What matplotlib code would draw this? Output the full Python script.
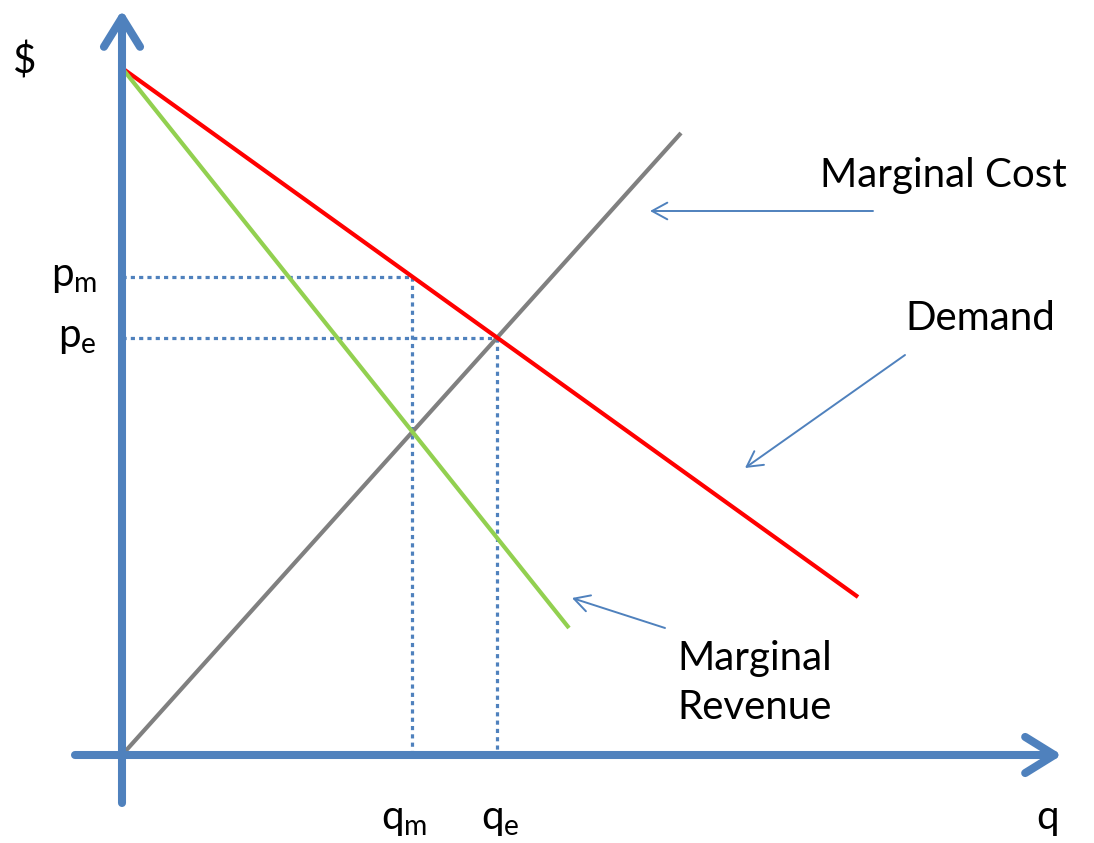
import matplotlib
matplotlib.use("Agg")
import matplotlib.pyplot as plt
import numpy as np
from matplotlib.patches import FancyArrowPatch

# Curves, quantity / price in drawing units (origin at axes crossing)
demand_q = [0, 736]
demand_p = [687, 158]
mr_q = [0, 447]
mr_p = [687, 127]
mc_q = [0, 559]
mc_p = [0, 622]

AXIS_BLUE = "#4F81BD"
FONT = "Lato"


def _line(q, p):
    slope = (p[1] - p[0]) / (q[1] - q[0])
    return slope, p[0] - slope * q[0]


def _cross(a, b):
    m1, c1 = _line(*a)
    m2, c2 = _line(*b)
    x = (c2 - c1) / (m1 - m2)
    return x, m1 * x + c1


fig = plt.figure(figsize=(10.94, 8.43), dpi=100)
ax = fig.add_axes([0, 0, 1, 1])
ax.set_xlim(-122, 972)
ax.set_ylim(-88, 755)
ax.axis("off")

# equilibrium points
q_e, p_e = _cross((demand_q, demand_p), (mc_q, mc_p))
q_m, _ = _cross((mr_q, mr_p), (mc_q, mc_p))
m_d, c_d = _line(demand_q, demand_p)
p_m = m_d * q_m + c_d

dot = dict(color=AXIS_BLUE, lw=2.3, linestyle=(0, (1.3, 1.3)), dash_capstyle="butt", zorder=2)
ax.plot([0, q_m], [p_m, p_m], **dot)
ax.plot([q_m, q_m], [p_m, 0], **dot)
ax.plot([0, q_e], [p_e, p_e], **dot)
ax.plot([q_e, q_e], [p_e, 0], **dot)

ax.plot(mc_q, mc_p, color="#808080", lw=3.0, solid_capstyle="butt", zorder=3)
ax.plot(demand_q, demand_p, color="#FF0000", lw=3.0, solid_capstyle="butt", zorder=3)
ax.plot(mr_q, mr_p, color="#92D050", lw=3.0, solid_capstyle="butt", zorder=3)

# axes arrows
for start, end in [((0, -48), (0, 745)), ((-47, 0), (940, 0))]:
    ax.add_patch(FancyArrowPatch(start, end, arrowstyle="->,head_length=21,head_width=13",
                                 mutation_scale=1, color=AXIS_BLUE, lw=5.8,
                                 capstyle="round", joinstyle="round", shrinkA=0, shrinkB=0,
                                 zorder=4))

# label arrows
for start, end in [((751, 544), (528, 544)), ((783, 400), (623, 287)), ((543, 127), (450, 157))]:
    ax.add_patch(FancyArrowPatch(start, end, arrowstyle="->,head_length=11,head_width=6",
                                 mutation_scale=1, color=AXIS_BLUE, lw=1.4,
                                 shrinkA=0, shrinkB=0, zorder=4))

fs = 29
ax.text(-97, 693, "$", fontsize=fs, family=FONT, ha="center", va="center")
ax.text(-25, p_m, r"p$_\mathregular{m}$", fontsize=fs, family=FONT, ha="right", va="center")
ax.text(-25, p_e, r"p$_\mathregular{e}$", fontsize=fs, family=FONT, ha="right", va="center")
ax.text(q_m - 8, -64, r"q$_\mathregular{m}$", fontsize=fs, family=FONT, ha="center", va="center")
ax.text(q_e + 3, -64, r"q$_\mathregular{e}$", fontsize=fs, family=FONT, ha="center", va="center")
ax.text(926, -62, "q", fontsize=fs, family=FONT, ha="center", va="center")
ax.text(698, 580, "Marginal Cost", fontsize=fs, family=FONT, ha="left", va="center")
ax.text(783, 437, "Demand", fontsize=fs, family=FONT, ha="left", va="center")
ax.text(555, 72, "Marginal\nRevenue", fontsize=fs, family=FONT, ha="left", va="center",
        linespacing=1.4)

fig.savefig("out.png", dpi=100)
plt.close(fig)
